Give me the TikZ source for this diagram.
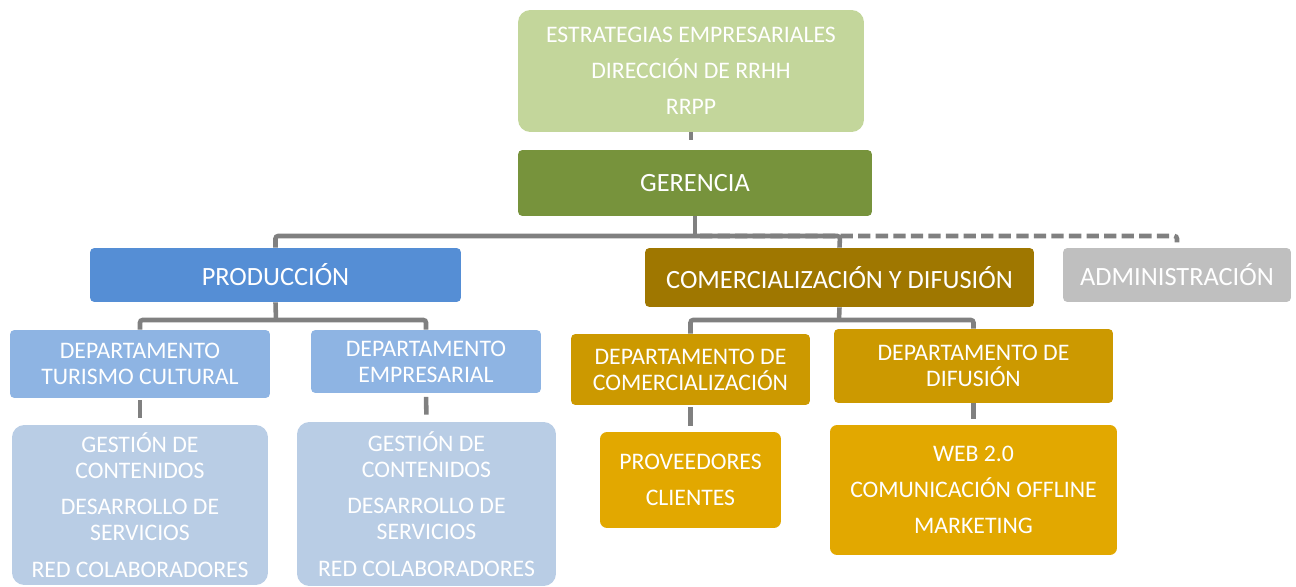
\documentclass[tikz,border=0pt]{standalone}
\usepackage{fontspec}
\setmainfont{Carlito}
\usepackage{tikz}

\definecolor{topgreen}{HTML}{C3D69B}
\definecolor{gergreen}{HTML}{77933C}
\definecolor{prodblue}{HTML}{558ED5}
\definecolor{comgold}{HTML}{9F7700}
\definecolor{admgrey}{HTML}{BFBFBF}
\definecolor{deptblue}{HTML}{8EB4E3}
\definecolor{leafblue}{HTML}{B9CDE5}
\definecolor{deptgold}{HTML}{CC9900}
\definecolor{leafgold}{HTML}{E2A800}
\definecolor{linkgrey}{HTML}{808080}

\tikzset{
	box/.style={rectangle, rounded corners=2.5pt, text=white, align=center, inner sep=0pt,
		font=\fontsize{13.5}{14.7}\selectfont},
	bigbox/.style={box, font=\fontsize{15}{17}\selectfont},
	leaf/.style={box, rounded corners=7pt},
	link/.style={draw=linkgrey, line width=2.6pt, rounded corners=1.5pt}
}

\begin{document}
\begin{tikzpicture}[x=0.02cm, y=-0.02cm]
	\useasboundingbox (0,0) rectangle (1296,587);

	\node[leaf, fill=topgreen, minimum width=6.92cm, minimum height=2.44cm,
		font=\fontsize{13.5}{20.4}\selectfont] (top) at (691,71)
		{ESTRATEGIAS EMPRESARIALES\\DIRECCIÓN DE RRHH\\RRPP};
	\node[bigbox, fill=gergreen, minimum width=7.08cm, minimum height=1.32cm] (ger) at (695,183) {GERENCIA};

	\node[bigbox, fill=prodblue, minimum width=7.42cm, minimum height=1.08cm] (prod) at (275.5,275) {PRODUCCIÓN};
	\node[bigbox, fill=comgold, minimum width=7.78cm, minimum height=1.18cm] (com) at (839.5,277.5) {COMERCIALIZACIÓN Y DIFUSIÓN};
	\node[bigbox, fill=admgrey, minimum width=4.56cm, minimum height=1.08cm] (adm) at (1177,275) {ADMINISTRACIÓN};

	\node[box, fill=deptblue, minimum width=5.2cm, minimum height=1.36cm] (tur) at (140,364) {DEPARTAMENTO\\TURISMO CULTURAL};
	\node[box, fill=deptblue, minimum width=4.6cm, minimum height=1.26cm] (emp) at (426,361.5) {DEPARTAMENTO\\EMPRESARIAL};
	\node[box, fill=deptgold, minimum width=4.78cm, minimum height=1.42cm] (dcom) at (690.5,369.5) {DEPARTAMENTO DE\\COMERCIALIZACIÓN};
	\node[box, fill=deptgold, minimum width=5.58cm, minimum height=1.48cm] (ddif) at (973.5,366) {DEPARTAMENTO DE\\DIFUSIÓN};

	\node[leaf, fill=leafblue, minimum width=5.12cm, minimum height=3.2cm] (gcl) at (140,505)
		{GESTIÓN DE\\CONTENIDOS\\[6pt]DESARROLLO DE\\SERVICIOS\\[6pt]RED COLABORADORES};
	\node[leaf, fill=leafblue, minimum width=5.18cm, minimum height=3.28cm] (gcr) at (426.5,504)
		{GESTIÓN DE\\CONTENIDOS\\[6pt]DESARROLLO DE\\SERVICIOS\\[6pt]RED COLABORADORES};
	\node[box, rounded corners=4pt, fill=leafgold, minimum width=3.62cm, minimum height=1.92cm,
		font=\fontsize{13.5}{20.4}\selectfont] (prov) at (690.5,480) {PROVEEDORES\\CLIENTES};
	\node[box, rounded corners=4pt, fill=leafgold, minimum width=5.74cm, minimum height=2.6cm,
		font=\fontsize{13.5}{20.4}\selectfont] (web) at (973.5,490) {WEB 2.0\\COMUNICACIÓN OFFLINE\\MARKETING};

	\coordinate (busL) at (276,236);
	\coordinate (busR) at (840,236);
	\coordinate (dashL) at (700,236);
	\coordinate (pbus) at (276,320);
	\coordinate (cbus) at (839,320);

	\draw[link, shorten >=5.7pt] (top.south) -- (top.south |- ger.north);
	\draw[link, dash pattern=on 7pt off 3pt] (dashL) -| ([yshift=3pt]adm.north);
	\draw[link] (prod.north) |- (busR) -- (com.north);
	\draw[link] (ger.south) -- (ger.south |- busL);

	\draw[link] (tur.north) |- (pbus) -| (emp.north);
	\draw[link] (prod.south) -- (pbus);
	\draw[link] (dcom.north) |- (cbus) -| (ddif.north);
	\draw[link] (com.south) -- (cbus);

	\draw[link, shorten <=1pt, shorten >=4pt] (tur.south) -- (gcl.north);
	\draw[link, shorten <=2pt, shorten >=4pt] (emp.south) -- (gcr.north);
	\draw[link, shorten <=1pt, shorten >=3pt] (dcom.south) -- (prov.north);
	\draw[link, shorten >=3pt] (ddif.south) -- (web.north);

\end{tikzpicture}
\end{document}
